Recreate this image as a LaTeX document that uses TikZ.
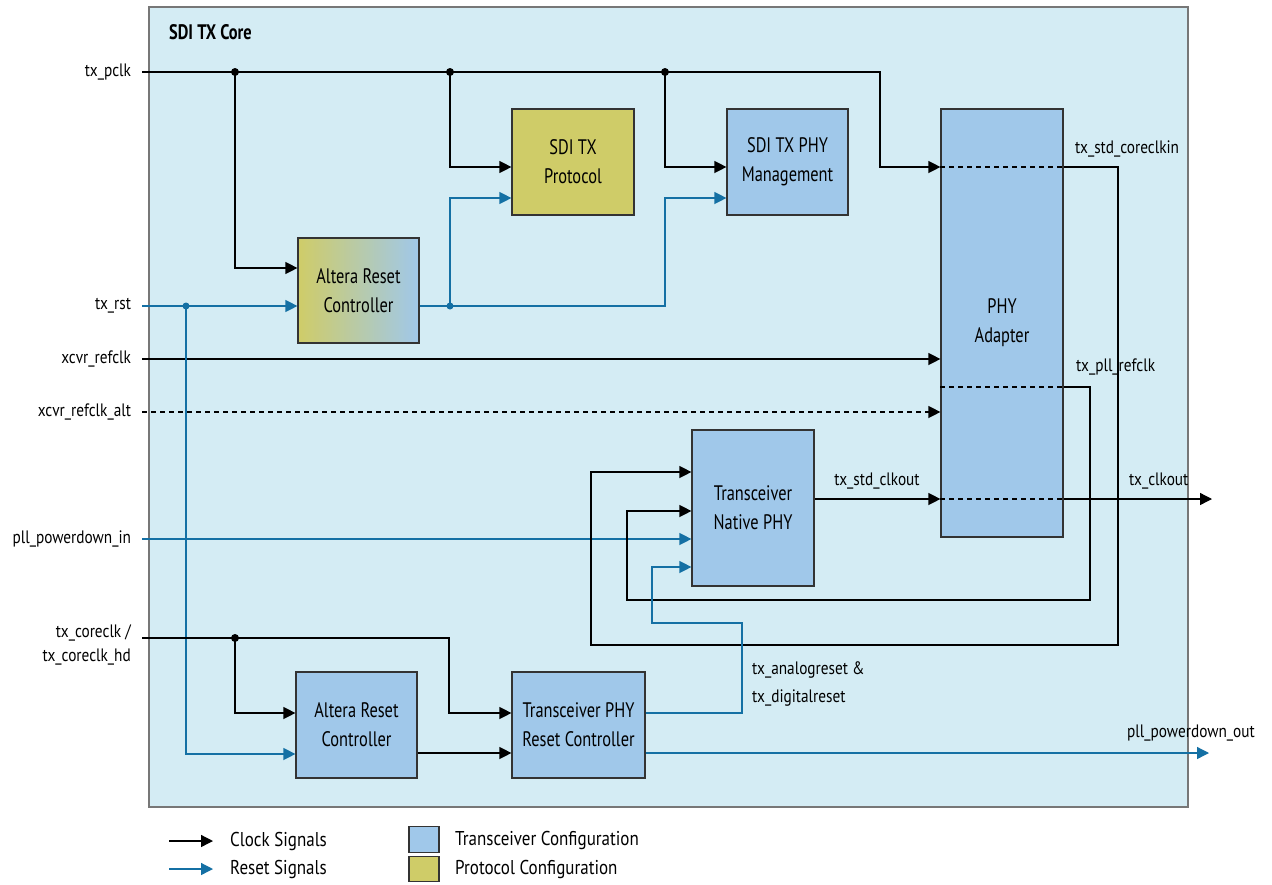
\documentclass[tikz,border=0pt]{standalone}
\usepackage{fontspec}
\setmainfont{PT Sans}[FakeStretch=0.78]
\newfontfamily\lblfont{PT Sans}[FakeStretch=0.85]
\usetikzlibrary{arrows.meta}
\definecolor{corebg}{HTML}{D4ECF4}
\definecolor{xcvr}{HTML}{A0C8EA}
\definecolor{protoc}{HTML}{CFCC68}
\definecolor{rst}{HTML}{1470A4}
\definecolor{boxline}{HTML}{333333}
\definecolor{coreline}{HTML}{777777}
\tikzset{
  blk/.style={draw=boxline, line width=1.2pt, inner sep=0pt, align=center,
    font=\fontsize{21}{29}\selectfont},
  xblk/.style={blk, fill=xcvr},
  pblk/.style={blk, fill=protoc},
  lbl/.style={inner sep=0pt, font=\lblfont\fontsize{18}{24}\selectfont},
  inlbl/.style={lbl, anchor=east, outer xsep=11pt},
  tip/.style={-{Triangle[length=12pt,width=12pt]}},
  clk/.style={draw=black, line width=1.3pt},
  rs/.style={draw=rst, line width=1.3pt},
  dsh/.style={dash pattern=on 5pt off 4pt},
  bdot/.style={circle, fill=black, inner sep=0pt, minimum size=8pt},
  rdot/.style={circle, fill=rst, inner sep=0pt, minimum size=7pt},
  leg/.style={inner sep=0pt, anchor=west, font=\lblfont\fontsize{20}{24}\selectfont},
}
\begin{document}
\begin{tikzpicture}[x=1pt,y=-1pt]
\fill[white] (0,0) rectangle (1272,884);
\useasboundingbox (0,0) rectangle (1272,884);
% core
\draw[coreline, line width=1.2pt, fill=corebg] (149,7) rectangle (1188,807);
\node[anchor=west, inner sep=0pt, font=\bfseries\fontsize{21}{24}\selectfont] (title) at (169,32) {SDI TX Core};

% blocks
\node[pblk, minimum width=122pt, minimum height=106pt] (proto) at (573,162) {SDI TX\\Protocol};
\node[xblk, minimum width=121pt, minimum height=106pt] (mgmt) at (787.5,162) {SDI TX PHY\\Management};
\node[xblk, minimum width=122pt, minimum height=428pt] (phya) at (1002,323) {PHY\\Adapter};
\node[blk, left color=protoc, right color=xcvr, minimum width=121pt, minimum height=105pt] (arc1) at (358.5,290.5) {Altera Reset\\Controller};
\node[xblk, minimum width=122pt, minimum height=156pt] (tnp) at (753,508) {Transceiver\\Native PHY};
\node[xblk, minimum width=121pt, minimum height=106pt] (arc2) at (356.5,725) {Altera Reset\\Controller};
\node[xblk, minimum width=133pt, minimum height=106pt] (tprc) at (578.5,725) {Transceiver PHY\\Reset Controller};

% input labels
\node[inlbl] (lpclk) at (142,72) {tx\_pclk};
\node[inlbl] (lrst) at (142,306) {tx\_rst};
\node[inlbl] (lref) at (142,359) {xcvr\_refclk};
\node[inlbl] (lrefalt) at (142,412) {xcvr\_refclk\_alt};
\node[inlbl] (lpdin) at (142,539) {pll\_powerdown\_in};
\node[lbl, anchor=east, align=right] (lcclk) at (131,645) {tx\_coreclk /\\tx\_coreclk\_hd};
\coordinate (ccin) at (142,638);

% output / inner labels
\node[lbl, anchor=west] (lcorein) at (1075,149) {tx\_std\_coreclkin};
\node[lbl, anchor=west] (lpllref) at (1076,367) {tx\_pll\_refclk};
\node[lbl] (lstdclk) at (877,481) {tx\_std\_clkout};
\node[lbl, anchor=west] (lclkout) at (1129,481) {tx\_clkout};
\node[lbl, anchor=west, align=left, font=\lblfont\fontsize{18}{28}\selectfont] (lreset) at (752,684) {tx\_analogreset \&\\tx\_digitalreset};
\node[lbl, anchor=west] (lpdout) at (1127,733) {pll\_powerdown\_out};
\coordinate (clkout) at (1212,499);
\coordinate (pdout) at (1209,753);

% dots
\node[bdot] (d1) at (235,72) {};
\node[bdot] (d2) at (450,72) {};
\node[bdot] (d3) at (665,72) {};
\node[bdot] (d4) at (235,638) {};
\node[rdot] (r1) at (186,306) {};
\node[rdot] (r2) at (450,306) {};

% clock: tx_pclk
\draw[clk, tip] (lpclk.east) -- (880,72) |- (phya.west |- 0,167);
\draw[clk, tip] (d1.center) |- (arc1.west |- 0,268);
\draw[clk, tip] (d2.center) |- (proto.west |- 0,167);
\draw[clk, tip] (d3.center) |- (mgmt.west |- 0,167);
% refclks
\draw[clk, tip] (lref.east) -- (phya.west |- lref.east);
\draw[clk, dsh, tip] (lrefalt.east) -- (phya.west |- lrefalt.east);
% resets top
\draw[rs, tip] (lrst.east) -- (arc1.west |- 0,306);
\draw[rs, tip] (r1.center) |- (arc2.west |- 0,754);
\draw[rs, tip] (arc1.east |- 0,306) -- (665,306) |- (mgmt.west |- 0,198);
\draw[rs, tip] (r2.center) |- (proto.west |- 0,198);
% pll_powerdown_in
\draw[rs, tip] (lpdin.east) -- (tnp.west |- 0,539);
% phy adapter internal dashed
\draw[clk, dsh] (phya.west |- 0,167) -- (phya.east |- 0,167);
\draw[clk, dsh] (phya.west |- 0,387) -- (phya.east |- 0,387);
\draw[clk, dsh] (phya.west |- 0,499) -- (phya.east |- 0,499);
% loops back to native phy
\draw[clk, tip] (phya.east |- 0,167) -| (1118,645) -| (591,472) -- (tnp.west |- 0,472);
\draw[clk, tip] (phya.east |- 0,387) -| (1090,600) -| (627,511) -- (tnp.west |- 0,511);
% tx_std_clkout / tx_clkout
\draw[clk, tip] (tnp.east |- 0,499) -- (phya.west |- 0,499);
\draw[clk, tip] (phya.east |- 0,499) -- (clkout);
% coreclk
\draw[clk, tip] (ccin) -- (449,638) |- (tprc.west |- 0,713);
\draw[clk, tip] (d4.center) |- (arc2.west |- 0,713);
\draw[clk, tip] (arc2.east |- 0,753) -- (tprc.west |- 0,753);
% tprc outputs
\draw[rs, tip] (tprc.east |- 0,713) -| (742,623) -| (652,567) -- (tnp.west |- 0,567);
\draw[rs, tip] (tprc.east |- 0,753) -- (pdout);

% legend
\coordinate (lc0) at (169,841); \coordinate (lc1) at (213,841);
\coordinate (lr0) at (169,869); \coordinate (lr1) at (213,869);
\draw[clk, tip] (lc0) -- (lc1);
\draw[rs, tip] (lr0) -- (lr1);
\node[leg] (lclk) at (230,841) {Clock Signals};
\node[leg] (lrs) at (230,869) {Reset Signals};
\node[draw=boxline, line width=1.2pt, fill=xcvr, minimum width=30pt, minimum height=26pt, inner sep=0pt] (sqx) at (424,839.5) {};
\node[draw=boxline, line width=1.2pt, fill=protoc, minimum width=30pt, minimum height=25pt, inner sep=0pt] (sqp) at (424,869) {};
\node[leg] (ltx) at (455,840) {Transceiver Configuration};
\node[leg] (lpc) at (455,869) {Protocol Configuration};
\end{tikzpicture}
\end{document}
